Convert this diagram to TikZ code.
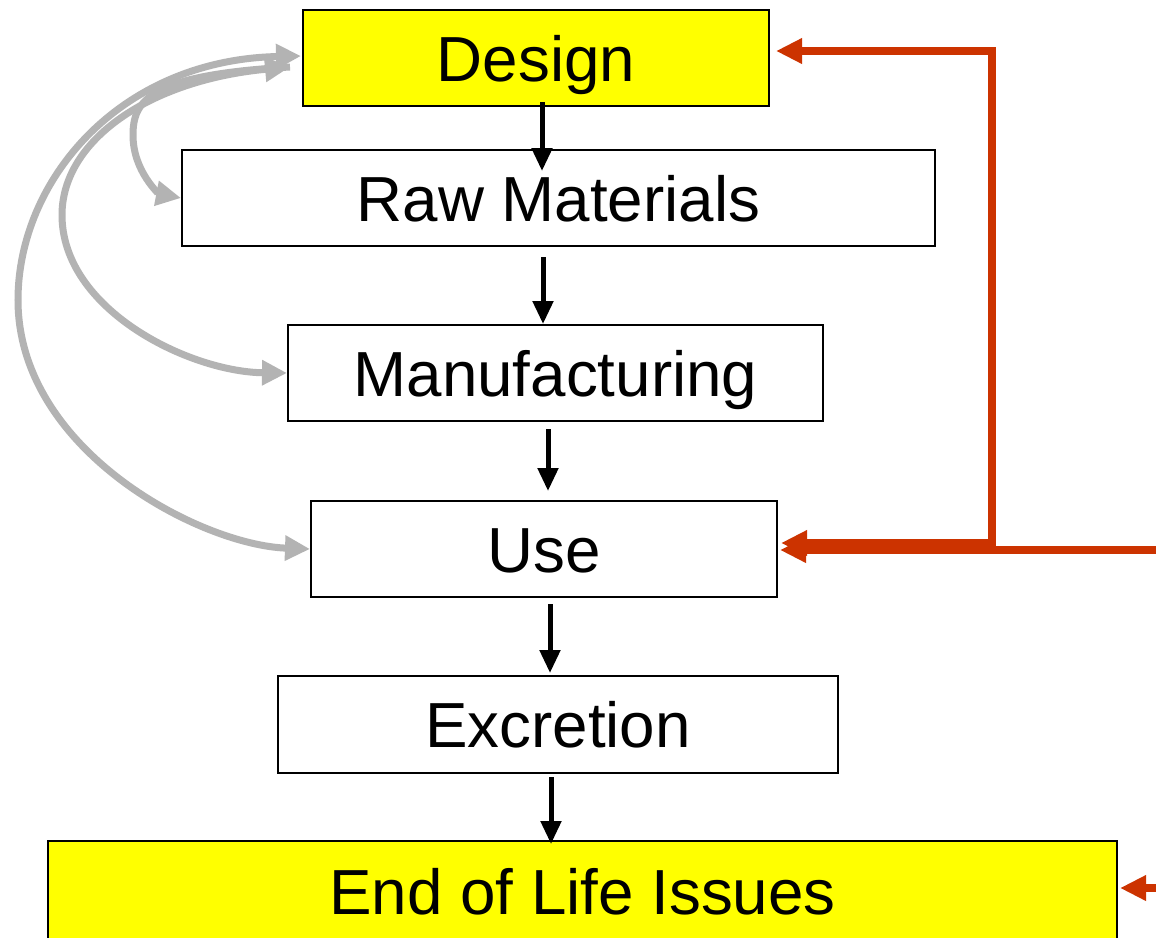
\documentclass[tikz,border=0pt]{standalone}
\usepackage{fontspec}
\setmainfont{Liberation Sans}
\usetikzlibrary{calc,arrows.meta}
\definecolor{flowred}{HTML}{CC3300}
\definecolor{loopgray}{HTML}{B3B3B3}
\definecolor{keyyellow}{HTML}{FFFF00}
\tikzset{
  stage/.style={draw=black, line width=2pt, fill=white, inner sep=0pt,
    font=\fontsize{63.7pt}{70pt}\selectfont, text height=46pt, text depth=0pt},
  keystage/.style={stage, fill=keyyellow},
  down/.style={line width=5pt, -{Triangle[length=23pt,width=20pt]}},
  feedback/.style={draw=flowred, line width=8pt, {Triangle[length=26pt,width=24pt]}-{Triangle[length=26pt,width=24pt]}},
  inflow/.style={draw=flowred, line width=8pt, -{Triangle[length=26pt,width=24pt]}},
  loop/.style={draw=loopgray, line width=7pt, -{Triangle[length=25pt,width=24pt]}},
  loopboth/.style={loop, {Triangle[length=25pt,width=24pt]}-{Triangle[length=25pt,width=24pt]}}
}
\begin{document}
\begin{tikzpicture}[x=1pt,y=-1pt]
\useasboundingbox (0,0) rectangle (1156,937);
\clip (0,0) rectangle (1156,937);
\fill[white] (0,0) rectangle (1156,937);

% life-cycle stages
\node[keystage, minimum width=466pt, minimum height=96pt] (design) at (536,58) {Design};
\node[stage, minimum width=753pt, minimum height=96pt] (raw) at (558.5,198) {Raw Materials};
\node[stage, minimum width=535pt, minimum height=96pt] (manuf) at (555.5,373) {Manufacturing};
\node[stage, minimum width=466pt, minimum height=96pt] (use) at (544,549) {Use};
\node[stage, minimum width=560pt, minimum height=97pt] (excr) at (558,724.5) {Excretion};
\node[keystage, minimum width=1069pt, minimum height=100pt] (eol) at (582.5,891) {End of Life Issues};

% main downward flow
\draw[down] ($(design.south)+(6,-5)$) -- ($(raw.north)+(-16.5,22)$);
\draw[down] ($(raw.south)+(-15.5,10)$) -- ($(manuf.north)+(-12.5,0)$);
\draw[down] ($(manuf.south)+(-7.5,7)$) -- ($(use.north)+(4,-9)$);
\draw[down] ($(use.south)+(6,6)$) -- ($(excr.north)+(-8,-2)$);
\draw[down] ($(excr.south)+(-7,3)$) -- ($(eol.north)+(-31.5,4)$);

% design loops on the left
\draw[loopboth] ($(design.west)+(-1,-2)$) .. controls (120,60) and (18,180) .. (18,300)
  .. controls (18,450) and (200,545) .. (use.west);
\draw[loopboth] ($(design.west)+(-12,9)$) .. controls (150,80) and (62,140) .. (62,215)
  .. controls (62,310) and (190,372) .. (manuf.west);
\draw[loop] ($(design.west)+(-12,9)$) .. controls (150,75) and (133,100) .. (133,135)
  .. controls (133,172) and (160,194) .. (raw.west);

% feedback on the right
\draw[feedback] ($(design.east)+(6,-7)$) -- ++(216,0) |- ($(use.east)+(3,-6)$);
\coordinate (usein) at (1165,550);
\draw[inflow] (usein) -- ($(use.east)+(2,1)$);
\coordinate (eolin) at (1165,888);
\draw[inflow] (eolin) -- ($(eol.east)+(2,-3)$);
\end{tikzpicture}
\end{document}
